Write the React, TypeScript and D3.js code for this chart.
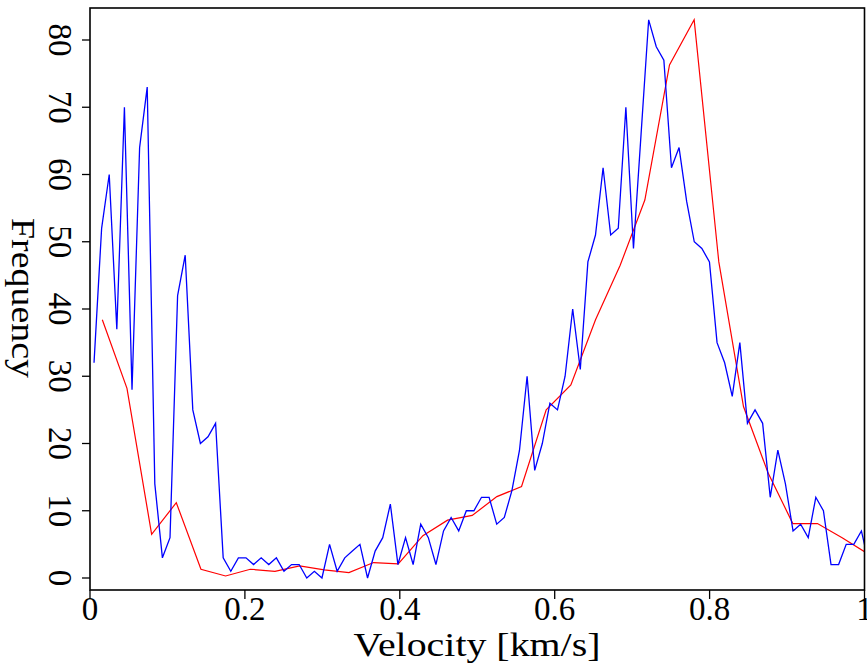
import React from "react";
import * as d3 from "d3";

// Histogram (blue): frequency per velocity bin
const blueStart = 0.0052;
const blueStep = 0.00981;
const blueValues = [
  32, 52, 60, 37, 70, 28, 64, 73, 14, 3,
  6, 42, 48, 25, 20, 21, 23, 3, 1, 3,
  3, 2, 3, 2, 3, 1, 2, 2, 0, 1,
  0, 5, 1, 3, 4, 5, 0, 4, 6, 11,
  2, 6, 2, 8, 6, 2, 7, 9, 7, 10,
  10, 12, 12, 8, 9, 13, 19, 30, 16, 20,
  26, 25, 30, 40, 31, 47, 51, 61, 51, 52,
  70, 49, 66, 83, 79, 77, 61, 64, 56, 50,
  49, 47, 35, 32, 27, 35, 23, 25, 23, 12,
  19, 14, 7, 8, 6, 12, 10, 2, 2, 5,
  5, 7, 2,
];

// Smoothed curve (red)
const redStart = 0.0159;
const redStep = 0.03184;
const redValues = [
  38.4, 28.2, 6.5, 11.2, 1.3, 0.3, 1.3, 1.0, 1.8, 1.2,
  0.8, 2.3, 2.1, 6.3, 8.6, 9.3, 12.1, 13.6, 25, 28.7,
  38.4, 46.5, 56.2, 76.3, 83, 47, 25.5, 15.6, 8.1, 8.1,
  6.0, 3.7,
];

const xTicks = [0, 0.2, 0.4, 0.6, 0.8, 1];
const xTickLabels = ["0", "0.2", "0.4", "0.6", "0.8", "1"];
const yTicks = [0, 10, 20, 30, 40, 50, 60, 70, 80];
const xTitle = "Velocity [km/s]";
const yTitle = "Frequency";

const W = 867;
const H = 664;
const left = 90;
const right = 864.5;
const top = 8;
const bottom = 590;

export default function App() {
  const x = d3.scaleLinear().domain([0, 1]).range([left, right]);
  const y = d3.scaleLinear().domain([0, 80]).range([578, 40]);

  const blueLine = d3
    .line<number>()
    .x((_, i) => x(blueStart + i * blueStep))
    .y((d) => y(d));
  const redLine = d3
    .line<number>()
    .x((_, i) => x(redStart + i * redStep))
    .y((d) => y(d));

  const font = "'Liberation Serif', 'Times New Roman', serif";

  return (
    <svg
      width={W}
      height={H}
      style={{ position: "absolute", left: 0, top: 0, background: "#fff" }}
      fontFamily={font}
    >
      <defs>
        <clipPath id="plotclip">
          <rect x={left} y={top} width={right - left} height={bottom - top} />
        </clipPath>
      </defs>
      <rect x={0} y={0} width={W} height={H} fill="#fff" />
      <g clipPath="url(#plotclip)">
        <path d={redLine(redValues) || ""} fill="none" stroke="#ff0000" strokeWidth={1.2} />
        <path d={blueLine(blueValues) || ""} fill="none" stroke="#0000ff" strokeWidth={1.3} />
      </g>
      <rect
        x={left}
        y={top}
        width={right - left}
        height={bottom - top}
        fill="none"
        stroke="#000"
        strokeWidth={1.6}
      />
      {xTicks.map((t, i) => (
        <g key={"xt" + i}>
          <line x1={x(t)} x2={x(t)} y1={bottom} y2={bottom + 9} stroke="#000" strokeWidth={1.3} />
          <text x={x(t)} y={620} textAnchor="middle" fontSize={33} fill="#000">
            {xTickLabels[i]}
          </text>
        </g>
      ))}
      {yTicks.map((t, i) => (
        <g key={"yt" + i}>
          <line x1={left - 8} x2={left} y1={y(t)} y2={y(t)} stroke="#000" strokeWidth={1.3} />
          <text
            transform={`translate(49,${y(t)}) rotate(90)`}
            textAnchor="middle"
            fontSize={33}
            fill="#000"
          >
            {String(t)}
          </text>
        </g>
      ))}
      <text
        x={477}
        y={656}
        textAnchor="middle"
        fontSize={33}
        fill="#000"
        textLength={247}
        lengthAdjust="spacingAndGlyphs"
      >
        {xTitle}
      </text>
      <text
        transform={`translate(12,298) rotate(90)`}
        textAnchor="middle"
        fontSize={33}
        fill="#000"
        textLength={160}
        lengthAdjust="spacingAndGlyphs"
      >
        {yTitle}
      </text>
    </svg>
  );
}
